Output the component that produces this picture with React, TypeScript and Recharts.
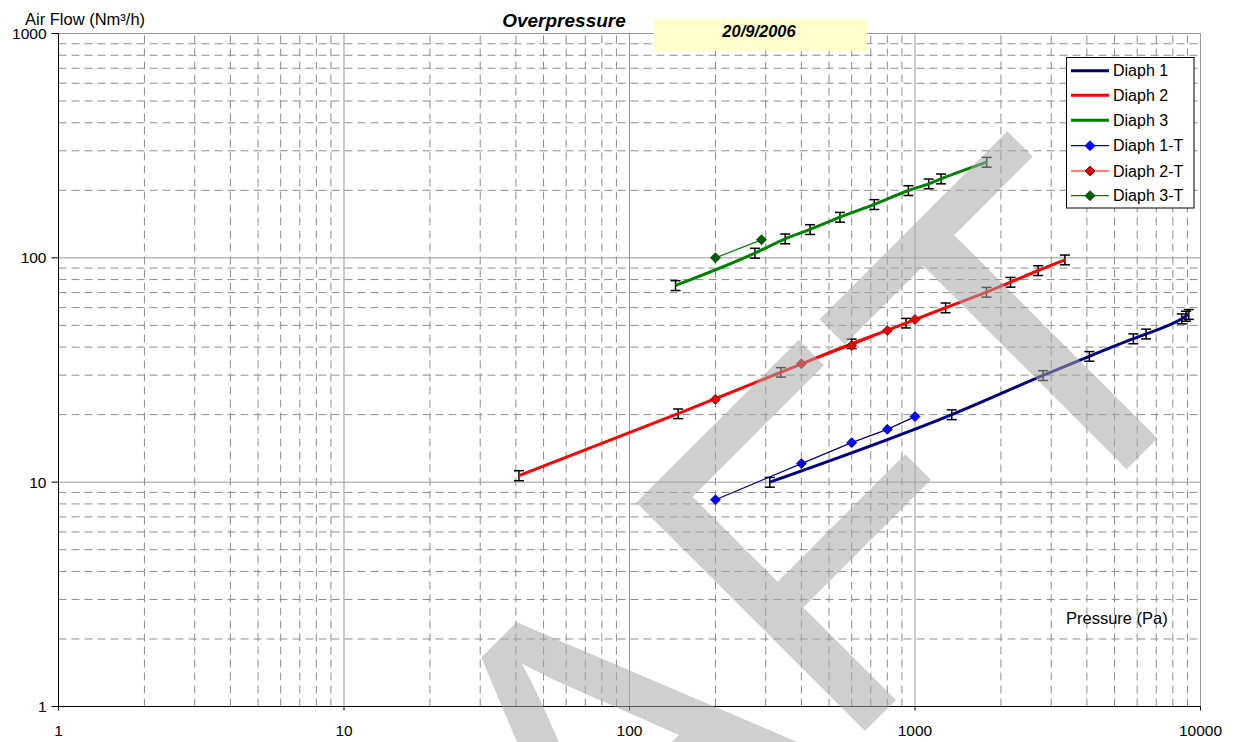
import { LineChart, Line, XAxis, YAxis, ReferenceLine, ErrorBar } from 'recharts';

// Diaph 1 (fitted curve with error bars)
const diaph1Pressure = [310, 1345, 2810, 4080, 5820, 6450, 8600, 8900, 9100];
const diaph1Flow = [10, 20, 29.9, 36.4, 43.6, 45.8, 53.5, 55, 56];
const diaph1Err = [0.5, 1, 1.5, 1.8, 2.2, 2.3, 2.7, 2.8, 2.8];

// Diaph 2
const diaph2Pressure = [41, 148, 339, 600, 930, 1280, 1780, 2160, 2700, 3350];
const diaph2Flow = [10.7, 20.2, 30.9, 41.4, 51.2, 59.9, 70.3, 77.9, 87.8, 98];
const diaph2Err = [0.55, 1, 1.5, 2, 2.5, 3, 3.5, 3.9, 4.4, 4.9];

// Diaph 3
const diaph3Pressure = [145, 275, 351, 429, 546, 720, 948, 1117, 1234, 1783];
const diaph3Flow = [75.3, 105, 121.6, 133.8, 151.8, 173, 199.6, 213.8, 225, 267];
const diaph3Err = [3.8, 5.3, 6.1, 6.7, 7.6, 8.7, 10, 10.7, 11.3, 13.4];

// test points
const diaph1TPressure = [200, 400, 600, 800, 1000];
const diaph1TFlow = [8.35, 12.1, 15, 17.2, 19.6];
const diaph2TPressure = [200, 400, 600, 800, 1000];
const diaph2TFlow = [23.4, 33.7, 40.7, 47.4, 53.1];
const diaph3TPressure = [200, 290];
const diaph3TFlow = [100, 120.3];

const xTicks = [1, 10, 100, 1000, 10000];
const yTicks = [1, 10, 100, 1000];
const minorSteps = [2, 3, 4, 5, 6, 7, 8, 9];

const xMajorGrid = [10, 100, 1000, 10000];
const yMajorGrid = [10, 100, 1000];
const xMinorGrid = [1, 10, 100, 1000].flatMap((d) => minorSteps.map((m) => d * m));
const yMinorGrid = [1, 10, 100].flatMap((d) => minorSteps.map((m) => d * m));

const FONT = 'Arial, "Liberation Sans", sans-serif';

const rows = (xs: number[], ys: number[], errs?: number[]) =>
    xs.map((x, i) => ({ x, y: ys[i], err: errs ? errs[i] : undefined }));

const fitSeries = [
    { name: 'Diaph 1', color: '#000080', data: rows(diaph1Pressure, diaph1Flow, diaph1Err) },
    { name: 'Diaph 2', color: '#FF0000', data: rows(diaph2Pressure, diaph2Flow, diaph2Err) },
    { name: 'Diaph 3', color: '#008000', data: rows(diaph3Pressure, diaph3Flow, diaph3Err) },
];

const testSeries = [
    { name: 'Diaph 1-T', color: '#000080', fill: '#0000FF', edge: '#0000C0', data: rows(diaph1TPressure, diaph1TFlow) },
    { name: 'Diaph 2-T', color: '#FF0000', fill: '#E00000', edge: '#800000', data: rows(diaph2TPressure, diaph2TFlow) },
    { name: 'Diaph 3-T', color: '#008000', fill: '#006000', edge: '#003000', data: rows(diaph3TPressure, diaph3TFlow) },
];

const diamondPath = (cx: number, cy: number, r: number) =>
    `M${cx},${cy - r} L${cx + r},${cy} L${cx},${cy + r} L${cx - r},${cy} Z`;

const makeDiamond = (fill: string, edge: string) => (props: any) => {
    const { cx, cy, index } = props;
    if (cx == null || cy == null) return <g key={`d-${index}`} />;
    return <path key={`d-${index}`} d={diamondPath(cx, cy, 5)} fill={fill} stroke={edge} strokeWidth={0.8} />;
};

const legendRows = [70.7, 95.3, 120.3, 145.7, 171, 195.7];

function Overlay() {
    return (
        <svg
            width={1237}
            height={742}
            style={{ position: 'absolute', left: 0, top: 0, pointerEvents: 'none' }}
        >
            <text x={25} y={24.5} fontFamily={FONT} fontSize={16.5} fill="#000">
                Air Flow (Nm³/h)
            </text>
            <text x={564} y={27} textAnchor="middle" fontFamily={FONT} fontSize={19} fontWeight="bold" fontStyle="italic" fill="#000">
                Overpressure
            </text>
            <rect x={654} y={19} width={213} height={32} fill="#FFFFCC" />
            <text x={759} y={36.5} textAnchor="middle" fontFamily={FONT} fontSize={16.5} fontWeight="bold" fontStyle="italic" fill="#000">
                20/9/2006
            </text>
            <text x={1066} y={624} fontFamily={FONT} fontSize={16.5} fill="#000">
                Pressure (Pa)
            </text>

            {/* legend */}
            <rect x={1066.5} y={57.5} width={127.5} height={150.5} fill="#fff" stroke="#000" strokeWidth={1} />
            {fitSeries.map((s, i) => (
                <g key={s.name}>
                    <line x1={1071} x2={1109} y1={legendRows[i]} y2={legendRows[i]} stroke={s.color} strokeWidth={3} />
                    <text x={1113} y={legendRows[i] + 5.5} fontFamily={FONT} fontSize={16} fill="#000">
                        {s.name}
                    </text>
                </g>
            ))}
            {testSeries.map((s, i) => (
                <g key={s.name}>
                    <line x1={1071} x2={1109} y1={legendRows[i + 3]} y2={legendRows[i + 3]} stroke={s.color} strokeWidth={1.2} />
                    <path d={diamondPath(1090, legendRows[i + 3], 5)} fill={s.fill} stroke={s.edge} strokeWidth={0.8} />
                    <text x={1113} y={legendRows[i + 3] + 5.5} fontFamily={FONT} fontSize={16} fill="#000">
                        {s.name}
                    </text>
                </g>
            ))}

            {/* DRAFT watermark */}
            <text
                x={136}
                y={1460}
                transform="rotate(-45 136 1460)"
                fontFamily={FONT}
                fontSize={470}
                fill="#a7a7a7"
                fillOpacity={0.54}
            >
                DRAFT
            </text>
        </svg>
    );
}

export default function App() {
    return (
        <div style={{ position: 'absolute', left: 0, top: 0, width: 1237, height: 742, background: '#fff' }}>
            <LineChart width={1237} height={742} margin={{ top: 33.5, right: 36.5, bottom: 0, left: 0 }}>
                <XAxis
                    type="number"
                    dataKey="x"
                    scale="log"
                    domain={[1, 10000]}
                    allowDataOverflow
                    ticks={xTicks}
                    interval={0}
                    height={35.5}
                    tickSize={4}
                    tickMargin={14.5}
                    axisLine={{ stroke: '#000' }}
                    tickLine={{ stroke: '#000' }}
                    tick={{ fill: '#000', fontSize: 15.5, fontFamily: FONT }}
                />
                <YAxis
                    type="number"
                    dataKey="y"
                    scale="log"
                    domain={[1, 1000]}
                    allowDataOverflow
                    ticks={yTicks}
                    interval={0}
                    width={58.5}
                    tickSize={7}
                    tickMargin={5}
                    axisLine={{ stroke: '#000' }}
                    tickLine={{ stroke: '#000' }}
                    tick={{ fill: '#000', fontSize: 15.5, fontFamily: FONT }}
                />

                {xMinorGrid.map((v) => (
                    <ReferenceLine key={`xm-${v}`} x={v} stroke="#8c8c8c" strokeDasharray="8 5" />
                ))}
                {yMinorGrid.map((v) => (
                    <ReferenceLine key={`ym-${v}`} y={v} stroke="#8c8c8c" strokeDasharray="8 5" />
                ))}
                {xMajorGrid.map((v) => (
                    <ReferenceLine key={`xM-${v}`} x={v} stroke="#999" />
                ))}
                {yMajorGrid.map((v) => (
                    <ReferenceLine key={`yM-${v}`} y={v} stroke="#999" />
                ))}

                {fitSeries.map((s) => (
                    <Line
                        key={s.name}
                        data={s.data}
                        dataKey="y"
                        name={s.name}
                        type="monotone"
                        stroke={s.color}
                        strokeWidth={3}
                        dot={false}
                        activeDot={false}
                        isAnimationActive={false}
                    >
                        <ErrorBar dataKey="err" direction="y" width={5} stroke="#000" strokeWidth={1.5} isAnimationActive={false} />
                    </Line>
                ))}
                {testSeries.map((s) => (
                    <Line
                        key={s.name}
                        data={s.data}
                        dataKey="y"
                        name={s.name}
                        type="linear"
                        stroke={s.color}
                        strokeWidth={1.2}
                        dot={makeDiamond(s.fill, s.edge)}
                        activeDot={false}
                        isAnimationActive={false}
                    />
                ))}
            </LineChart>
            <Overlay />
        </div>
    );
}
